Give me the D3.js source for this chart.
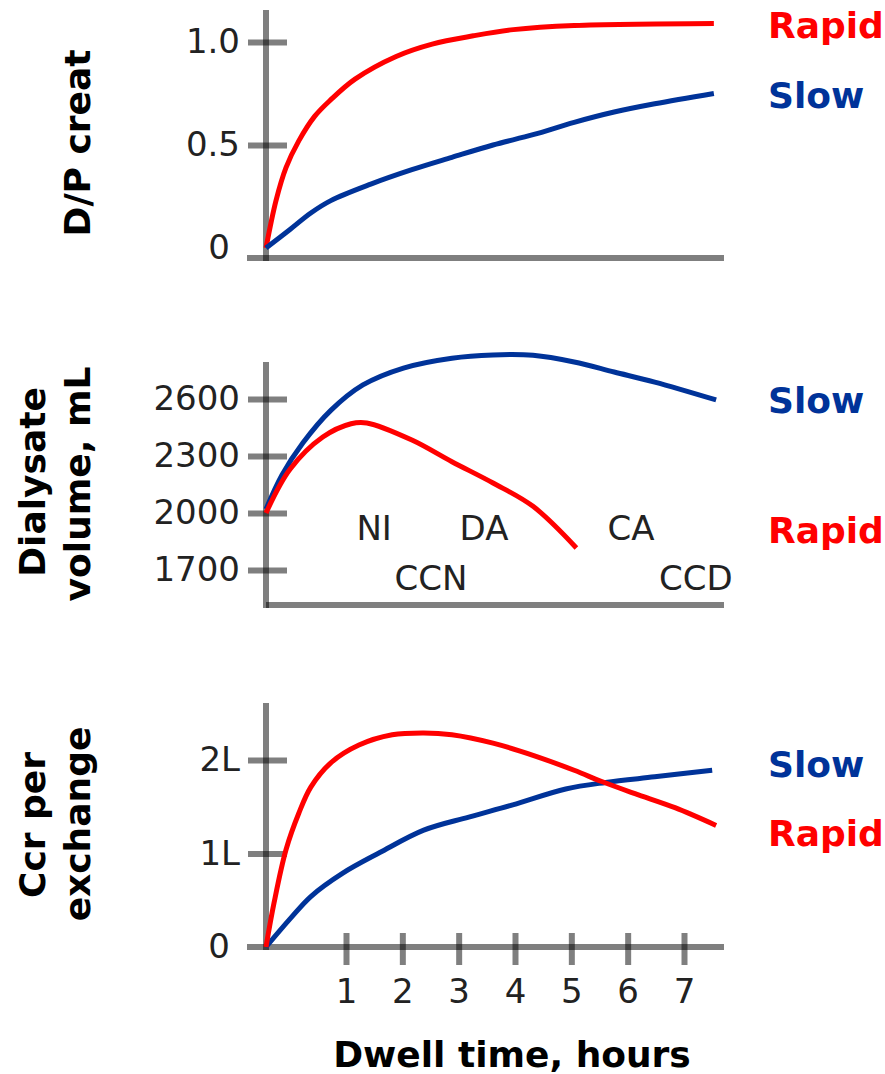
<!DOCTYPE html>
<html><head><meta charset="utf-8">
<script src="https://cdn.jsdelivr.net/npm/d3@7"></script>
<style>body{margin:0;background:#fff} svg{display:block}</style>
</head><body>
<svg id="c" width="885" height="1074"></svg>
<script>
// ---------- data ----------
const hourTicks = [1, 2, 3, 4, 5, 6, 7];
const dpTicks = [0, 0.5, 1.0];
const dpTickLabels = ["0", "0.5", "1.0"];
const volTicks = [1700, 2000, 2300, 2600];
const volTickLabels = ["1700", "2000", "2300", "2600"];
const ccrTicks = [0, 1, 2];
const ccrTickLabels = ["0", "1L", "2L"];

// [hours, value]
const dpRapid = [[0,0],[0.125,0.23],[0.25,0.39],[0.41,0.52],[0.61,0.64],[0.81,0.72],[1.16,0.82],[1.89,0.93],[2.53,0.99],[3.26,1.03],[3.97,1.06],[5.05,1.08],[7.53,1.09]];
const dpSlow = [[0,0],[0.3,0.09],[0.56,0.17],[0.81,0.23],[1.44,0.31],[2.17,0.38],[2.88,0.44],[3.61,0.50],[4.32,0.55],[5.05,0.61],[5.76,0.66],[6.48,0.70],[7.53,0.75]];

const volSlow = [[0,2020],[0.2,2200],[0.46,2368],[0.81,2540],[1.3,2674],[2.02,2763],[2.88,2815],[3.61,2832],[4.32,2830],[5.05,2795],[5.76,2742],[6.48,2689],[7.57,2595]];
const volRapid = [[0,2000],[0.3,2230],[0.71,2400],[1.09,2470],[1.37,2474],[2.17,2384],[2.88,2270],[3.61,2158],[4.32,2035],[5.09,1816]];

const ccrRapid = [[0,0],[0.1,0.47],[0.25,1.04],[0.41,1.43],[0.56,1.71],[0.81,1.97],[1.23,2.16],[1.82,2.27],[2.38,2.29],[2.88,2.27],[3.61,2.18],[4.32,2.05],[5.05,1.89],[5.54,1.77],[6.13,1.64],[6.84,1.49],[7.57,1.30]];
const ccrSlow = [[0,0],[0.3,0.30],[0.56,0.54],[0.96,0.79],[1.6,1.01],[2.38,1.25],[3.18,1.39],[3.96,1.52],[4.9,1.69],[5.61,1.76],[6.48,1.82],[7.5,1.89]];

const annoText = ["NI", "DA", "CA", "CCN", "CCD"];
const annoHour = [1.5, 3.45, 6.06, 2.51, 7.21];
const annoVol = [1858, 1858, 1858, 1595, 1595];

// ---------- styles ----------
const RED = "#ff0000", BLUE = "#003399";
const FONT = "'DejaVu Sans', Verdana, sans-serif";
const svg = d3.select("#c");

const x = d3.scaleLinear().domain([0, 1, 7]).range([266, 346, 684]);
const xEnd = 7.71;

const panels = [
  { y: d3.scaleLinear().domain([0, 1]).range([248, 42]), top: 10, base: 258, xStart: 247,
    ticks: dpTicks, labels: dpTickLabels,
    series: [[dpRapid, RED], [dpSlow, BLUE]],
    names: [["Rapid", RED, 38], ["Slow", BLUE, 108]],
    title: [["D/P creat", 90, 143]] },
  { y: d3.scaleLinear().domain([1700, 2600]).range([570, 399]), top: 362, base: 605, xStart: 266,
    ticks: volTicks, labels: volTickLabels,
    series: [[volSlow, BLUE], [volRapid, RED]],
    names: [["Slow", BLUE, 413], ["Rapid", RED, 543]],
    title: [["Dialysate", 45, 482], ["volume, mL", 90, 484]] },
  { y: d3.scaleLinear().domain([0, 2]).range([947, 760]), top: 703, base: 947, xStart: 247,
    ticks: ccrTicks, labels: ccrTickLabels,
    series: [[ccrSlow, BLUE], [ccrRapid, RED]],
    names: [["Slow", BLUE, 777], ["Rapid", RED, 846]],
    title: [["Ccr per", 45, 825], ["exchange", 90, 824]] }
];

panels.forEach((p, pi) => {
  const g = svg.append("g");
  const ax = g.append("g").attr("transform", `translate(${x(0)},0)`)
    .call(d3.axisLeft(p.y).tickValues(p.ticks).tickFormat((d, i) => p.labels[i]).tickSize(18).tickPadding(8));
  ax.select(".domain").remove();
  ax.selectAll(".tick line")
    .attr("x1", 21).attr("stroke", "#000").attr("stroke-opacity", 0.5).attr("stroke-width", 6)
    .filter(d => d === 0 && pi !== 1).remove();
  ax.selectAll(".tick text")
    .attr("font-family", FONT).attr("font-size", 34).attr("fill", "#222")
    .filter(d => d === 0 && pi !== 1).attr("x", -36);
  ax.attr("font-size", null).attr("font-family", null);

  g.append("line").attr("x1", x(0)).attr("x2", x(0)).attr("y1", p.top).attr("y2", p.base + 3)
    .attr("stroke", "#000").attr("stroke-opacity", 0.5).attr("stroke-width", 6);
  g.append("line").attr("x1", p.xStart).attr("x2", x(xEnd)).attr("y1", p.base).attr("y2", p.base)
    .attr("stroke", "#000").attr("stroke-opacity", 0.5).attr("stroke-width", 6);

  const line = d3.line().x(d => x(d[0])).y(d => p.y(d[1])).curve(d3.curveCatmullRom.alpha(0.5));
  p.series.forEach(([data, col]) => {
    g.append("path").datum(data).attr("d", line)
      .attr("fill", "none").attr("stroke", col).attr("stroke-width", 5);
  });

  p.names.forEach(([t, col, yb]) => {
    g.append("text").attr("x", 768).attr("y", yb).text(t)
      .attr("font-family", FONT).attr("font-weight", "bold").attr("font-size", 36).attr("fill", col);
  });

  p.title.forEach(([t, tx, ty]) => {
    g.append("text").attr("transform", `translate(${tx},${ty}) rotate(-90)`)
      .attr("text-anchor", "middle").text(t)
      .attr("font-family", FONT).attr("font-weight", "bold").attr("font-size", 36).attr("fill", "#000");
  });

  if (pi === 1) {
    annoText.forEach((t, i) => {
      g.append("text").attr("x", x(annoHour[i])).attr("y", p.y(annoVol[i]))
        .attr("text-anchor", "middle").text(t)
        .attr("font-family", FONT).attr("font-size", 34).attr("fill", "#222");
    });
  }

  if (pi === 2) {
    const bx = g.append("g").attr("transform", `translate(0,${p.base})`)
      .call(d3.axisBottom(x).tickValues(hourTicks).tickFormat(d3.format("d")).tickSize(18).tickPadding(14));
    bx.select(".domain").remove();
    bx.selectAll(".tick line").attr("y1", -14).attr("stroke", "#000").attr("stroke-opacity", 0.5).attr("stroke-width", 6);
    bx.selectAll(".tick text").attr("font-family", FONT).attr("font-size", 34).attr("fill", "#222");
    bx.attr("font-size", null).attr("font-family", null);
  }
});

svg.append("text").attr("x", 512).attr("y", 1067).attr("text-anchor", "middle")
  .text("Dwell time, hours")
  .attr("font-family", FONT).attr("font-weight", "bold").attr("font-size", 36).attr("fill", "#000");
</script>
</body></html>
